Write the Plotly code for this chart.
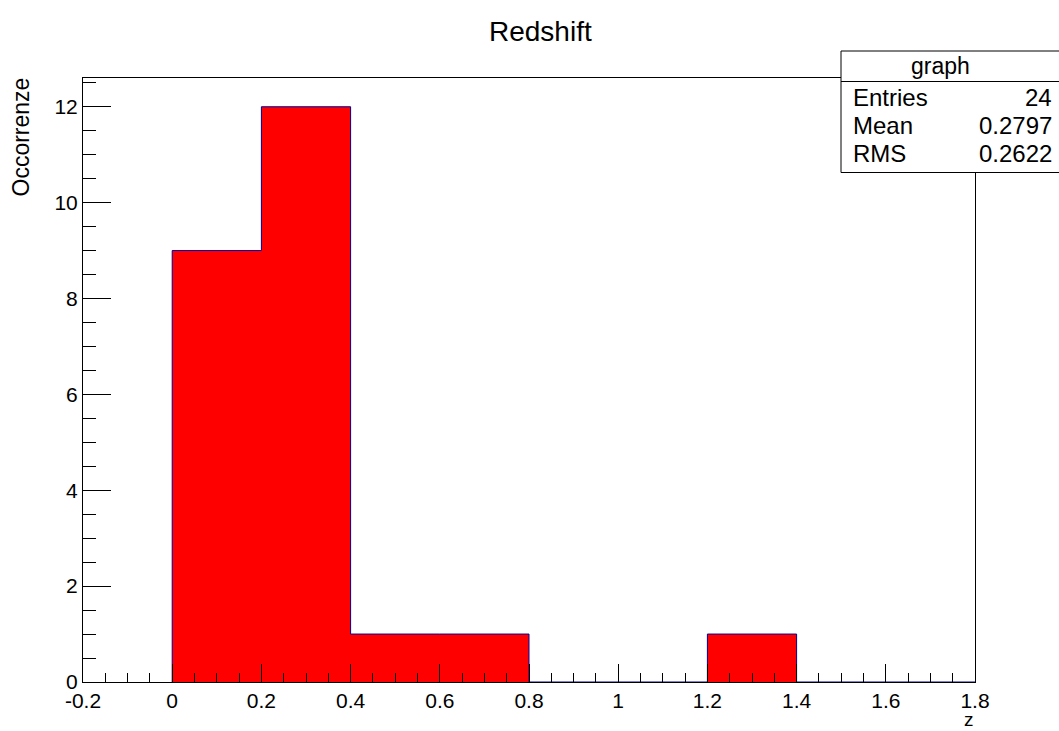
import plotly.graph_objects as go

# Histogram of redshift values (9 bins of width 0.2)
bin_edges = [0.0, 0.2, 0.4, 0.6, 0.8, 1.0, 1.2, 1.4, 1.6, 1.8]
counts = [9, 12, 1, 1, 0, 0, 1, 0, 0]

x_ticks = [-0.2, 0, 0.2, 0.4, 0.6, 0.8, 1, 1.2, 1.4, 1.6, 1.8]
x_tick_text = ["-0.2", "0", "0.2", "0.4", "0.6", "0.8", "1", "1.2", "1.4", "1.6", "1.8"]
y_ticks = [0, 2, 4, 6, 8, 10, 12]

stat_names = ["Entries", "Mean", "RMS"]
stat_values = ["24", "0.2797", "0.2622"]

W, H = 1059, 731
L, R, T, B = 83, 84, 78, 49
FONT = "Liberation Sans, Arial, Helvetica, sans-serif"


def px_x(px):
    return (px - L) / (W - L - R)


def px_y(py):
    return (H - B - py) / (H - T - B)


# step outline with fill, closed down to zero at both ends
step_x = [bin_edges[0]] + bin_edges
step_y = [0] + counts + [0]

fig = go.Figure()
fig.add_trace(go.Scatter(
    x=step_x, y=step_y, mode="lines", line_shape="hv",
    line=dict(color="#000099", width=1),
    fill="tozeroy", fillcolor="#ff0000",
    hoverinfo="skip", showlegend=False,
))

axis_common = dict(
    showgrid=False, zeroline=False, showline=True, linecolor="black",
    linewidth=1, mirror=True, ticks="inside", tickcolor="black",
    tickwidth=1, tickfont=dict(family=FONT, size=21, color="black"),
)

fig.update_xaxes(
    range=[-0.2, 1.8], tickvals=x_ticks, ticktext=x_tick_text, ticklen=18,
    minor=dict(ticks="inside", dtick=0.05, tick0=0, ticklen=9,
               tickcolor="black", tickwidth=1),
    **axis_common,
)
fig.update_yaxes(
    range=[0, 12.6], tickvals=y_ticks, ticklen=28,
    minor=dict(ticks="inside", dtick=0.5, tick0=0, ticklen=13,
               tickcolor="black", tickwidth=1),
    **axis_common,
)

annotations = [
    dict(text="Redshift", x=px_x(540), xref="paper", y=px_y(32), yref="paper",
         xanchor="center", yanchor="middle", showarrow=False,
         font=dict(family=FONT, size=28, color="black")),
    dict(text="Occorrenze", x=px_x(20), xref="paper", y=px_y(76), yref="paper",
         xanchor="center", yanchor="top", textangle=-90, showarrow=False,
         font=dict(family=FONT, size=23, color="black")),
    dict(text="z", x=1.0, xref="paper", y=px_y(731), yref="paper",
         xanchor="right", yanchor="bottom", showarrow=False, borderpad=0,
         font=dict(family=FONT, size=19, color="black")),
    dict(text="graph", x=px_x(940), xref="paper", y=px_y(66), yref="paper",
         xanchor="center", yanchor="middle", showarrow=False,
         font=dict(family=FONT, size=23, color="black")),
]
row_y = [98, 125, 153]
for name, val, ry in zip(stat_names, stat_values, row_y):
    annotations.append(dict(text=name, x=px_x(851), xref="paper", y=px_y(ry),
                            yref="paper", xanchor="left", yanchor="middle",
                            showarrow=False,
                            font=dict(family=FONT, size=24, color="black")))
    annotations.append(dict(text=val, x=px_x(1054), xref="paper", y=px_y(ry),
                            yref="paper", xanchor="right", yanchor="middle",
                            showarrow=False,
                            font=dict(family=FONT, size=24, color="black")))

shapes = [
    dict(type="rect", xref="paper", yref="paper", layer="above",
         x0=px_x(841), x1=px_x(1064), y0=px_y(172.5), y1=px_y(51),
         fillcolor="white", line=dict(color="black", width=1)),
    dict(type="line", xref="paper", yref="paper", layer="above",
         x0=px_x(841), x1=px_x(1064), y0=px_y(81.5), y1=px_y(81.5),
         line=dict(color="black", width=1)),
]

fig.update_layout(
    width=W, height=H,
    margin=dict(l=L, r=R, t=T, b=B, pad=0),
    paper_bgcolor="white", plot_bgcolor="white",
    annotations=annotations, shapes=shapes,
    font=dict(family=FONT, color="black"),
)

fig.write_html("out.html")
